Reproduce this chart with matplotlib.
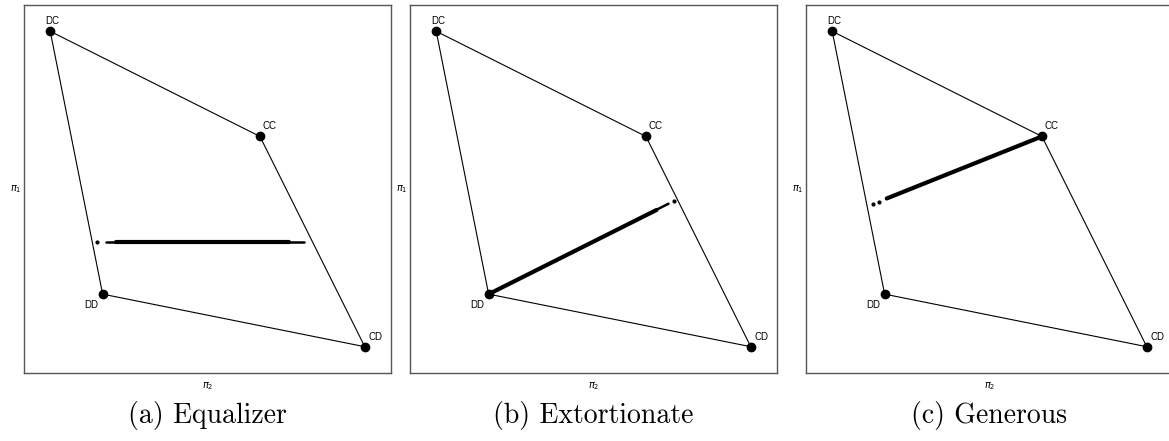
import matplotlib
matplotlib.use("Agg")
import matplotlib.pyplot as plt

plt.rcParams['mathtext.fontset'] = 'dejavusans'

# payoff polygon corners (pi2, pi1)
vertex_names = ['DC', 'CC', 'CD', 'DD']
vertex_pi2 = [-1, 3, 5, 0]
vertex_pi1 = [5, 3, -1, 0]
vertex_offsets = {'DC': (2, 10), 'CC': (10, 10), 'CD': (11, 10), 'DD': (-11, -11)}

captions = ['(a) Equalizer', '(b) Extortionate', '(c) Generous']

# simulated outcomes: dense core, thinner tails, stray dots
eq_core_pi2 = [0.25, 3.55]
eq_core_pi1 = [1.0, 1.0]
eq_tail_pi2 = [0.06, 3.85]
eq_tail_pi1 = [1.0, 1.0]
eq_dots_pi2 = [-0.10]
eq_dots_pi1 = [1.0]

ex_core_pi2 = [0.0, 3.20]
ex_core_pi1 = [0.0, 1.60]
ex_tail_pi2 = [0.0, 3.43]
ex_tail_pi1 = [0.0, 1.72]
ex_dots_pi2 = [3.53]
ex_dots_pi1 = [1.77]

ge_core_pi2 = [0.04, 3.0]
ge_core_pi1 = [1.82, 3.0]
ge_tail_pi2 = [0.04, 3.0]
ge_tail_pi1 = [1.82, 3.0]
ge_dots_pi2 = [-0.22, -0.11]
ge_dots_pi1 = [1.71, 1.76]

clouds = [
    (eq_core_pi2, eq_core_pi1, eq_tail_pi2, eq_tail_pi1, eq_dots_pi2, eq_dots_pi1),
    (ex_core_pi2, ex_core_pi1, ex_tail_pi2, ex_tail_pi1, ex_dots_pi2, ex_dots_pi1),
    (ge_core_pi2, ge_core_pi1, ge_tail_pi2, ge_tail_pi1, ge_dots_pi2, ge_dots_pi1),
]

W, H = 1169, 441
fig = plt.figure(figsize=(W / 100, H / 100), dpi=100)

lefts = [24, 410, 806]
for i, left in enumerate(lefts):
    ax = fig.add_axes([left / W, 68 / H, 367 / W, 368 / H])
    ax.set_xlim(-1.5, 5.5)
    ax.set_ylim(-1.5, 5.5)
    ax.set_xticks([])
    ax.set_yticks([])
    for s in ax.spines.values():
        s.set_color('#555555')
        s.set_linewidth(1.0)

    # polygon
    xs = vertex_pi2 + vertex_pi2[:1]
    ys = vertex_pi1 + vertex_pi1[:1]
    ax.plot(xs, ys, color='black', lw=0.8, zorder=2)
    ax.plot(vertex_pi2, vertex_pi1, 'o', color='black', ms=6, zorder=4)
    for name, x, y in zip(vertex_names, vertex_pi2, vertex_pi1):
        ax.annotate(name, (x, y), xytext=vertex_offsets[name], textcoords='offset pixels',
                    ha='center', va='center', fontsize=7, family='Liberation Sans')

    cp2, cp1, tp2, tp1, dp2, dp1 = clouds[i]
    ax.plot(tp2, tp1, color='black', lw=1.8, solid_capstyle='round', zorder=3)
    ax.plot(cp2, cp1, color='black', lw=3.0, solid_capstyle='round', zorder=3)
    ax.plot(dp2, dp1, 'o', color='black', ms=2, zorder=3)

    ax.set_xlabel(r'$\pi_2$', fontsize=7, labelpad=5)
    ax.set_ylabel(r'$\pi_1$', fontsize=7, rotation=0, labelpad=6, va='center')

    fig.text((left + 183.5) / W, 1 - 415 / H, captions[i], ha='center', va='center',
             fontsize=20, family='cmr10')

fig.savefig('out.png', dpi=100)
